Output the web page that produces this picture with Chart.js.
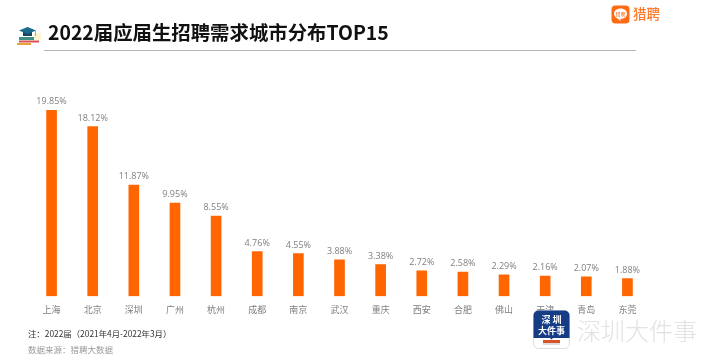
<!DOCTYPE html>
<html>
<head>
<meta charset="utf-8">
<style>
html, body { margin: 0; padding: 0; background: #fff; }
#wrap { position: relative; width: 710px; height: 361px; overflow: hidden; font-family: "Noto Sans CJK SC", "Noto Sans", sans-serif; }
canvas { position: absolute; left: 0; top: 0; }
.t { position: absolute; white-space: nowrap; line-height: 1; }
svg { position: absolute; }
</style>
</head>
<body>
<div id="wrap">
  <canvas id="cityChart" width="710" height="361"></canvas>

  <svg style="left:16px;top:26px" width="26" height="20" viewBox="0 0 26 20">
    <rect x="1" y="17" width="14" height="2" fill="#e9a23b"/>
    <rect x="3" y="14.5" width="20" height="2" fill="#d9534f"/>
    <rect x="3" y="11" width="15" height="3" fill="#3f8f86"/>
    <rect x="18" y="7" width="7" height="7" fill="#fdf3d2"/>
    <path d="M7 6 h9 v4 h-9z" fill="#17465f"/>
    <path d="M11.5 1 L20 4.5 L11.5 8 L3 4.5z" fill="#1c6b8f"/>
    <rect x="19" y="5" width="1" height="5" fill="#e9a23b"/>
  </svg>
  <div class="t" style="left:48px;top:22px;font-size:19.4px;font-weight:700;color:#111">2022届应届生招聘需求城市分布TOP15</div>
  <div style="position:absolute;left:44px;top:50px;width:592px;height:1px;background:#b5b5b5"></div>

  <svg style="left:611px;top:5px" width="19" height="19" viewBox="0 0 19 19">
    <rect x="0.5" y="0.5" width="18" height="18" rx="4" fill="#ff6a13"/>
    <path d="M9.5 3.5 C13.5 3.5 16 5.8 16 8.8 C16 11.8 13.5 14 9.5 14 L9.5 16 L6.5 13.4 C4.3 12.6 3 10.8 3 8.8 C3 5.8 5.5 3.5 9.5 3.5z" fill="#fff"/>
    <text x="9.5" y="11" font-size="5" fill="#ff6a13" text-anchor="middle" font-family="Noto Sans CJK SC">猎聘</text>
  </svg>
  <div class="t" style="left:633px;top:7px;font-size:13.5px;font-weight:500;color:#ff7a2b">猎聘</div>

  <div class="t" style="left:28px;top:329px;font-size:8.4px;color:#333">注：2022届（2021年4月-2022年3月）</div>
  <div class="t" style="left:28px;top:345px;font-size:8.5px;color:#999">数据来源：猎聘大数据</div>

  <svg style="left:533px;top:310px" width="37" height="39" viewBox="0 0 37 39">
    <rect x="0.5" y="0.5" width="36" height="38" rx="5" fill="#fff" stroke="#ddd"/>
    <path d="M0.5 28 V5.5 a5 5 0 0 1 5-5 H31.5 a5 5 0 0 1 5 5 V28 H20 L18.5 29.5 L17 28z" fill="#173c86"/>
    <rect x="10" y="30" width="17" height="3" fill="#d8532a"/>
    <rect x="10" y="33.5" width="17" height="1" fill="#bbb"/>
    <text x="18.5" y="13" font-size="9" font-weight="700" fill="#fff" text-anchor="middle" font-family="Noto Sans CJK SC">深 圳</text>
    <text x="18.5" y="23.5" font-size="9" font-weight="700" fill="#fff" text-anchor="middle" font-family="Noto Sans CJK SC">大件事</text>
  </svg>
  <div class="t" style="left:577px;top:318px;font-size:24px;font-weight:300;color:#e2e2e2">深圳大件事</div>
</div>

<script src="https://cdn.jsdelivr.net/npm/chart.js@4"></script>
<script>
const cities = ['上海', '北京', '深圳', '广州', '杭州', '成都', '南京', '武汉', '重庆', '西安', '合肥', '佛山', '天津', '青岛', '东莞'];
const shares = [19.85, 18.12, 11.87, 9.95, 8.55, 4.76, 4.55, 3.88, 3.38, 2.72, 2.58, 2.29, 2.16, 2.07, 1.88];

// value labels above the bars
const barLabels = {
    id: 'barLabels',
    afterDatasetsDraw(chart) {
        const ctx = chart.ctx;
        const bars = chart.getDatasetMeta(0).data;
        ctx.save();
        ctx.font = '9px "Open Sans", "Noto Sans", sans-serif';
        ctx.fillStyle = '#7f7f7f';
        ctx.textAlign = 'center';
        ctx.textBaseline = 'bottom';
        bars.forEach(function (bar, i) {
            ctx.fillText(shares[i].toFixed(2) + '%', bar.x, bar.y - 4);
        });
        ctx.restore();
    }
};

new Chart(document.getElementById('cityChart').getContext('2d'), {
    type: 'bar',
    data: {
        labels: cities,
        datasets: [{
            data: shares,
            backgroundColor: '#ff6600',
            barThickness: 10
        }]
    },
    options: {
        responsive: false,
        animation: false,
        layout: { padding: { left: 31, right: 62, top: 109, bottom: 46 } },
        plugins: {
            legend: { display: false },
            tooltip: { enabled: false }
        },
        scales: {
            x: {
                grid: { display: false },
                border: { display: false },
                ticks: {
                    color: '#7f7f7f',
                    maxRotation: 0,
                    autoSkip: false,
                    padding: 0,
                    font: { size: 9, family: '"Noto Sans CJK SC", "Noto Sans", sans-serif' }
                }
            },
            y: { display: false, min: 0, max: 20 }
        }
    },
    plugins: [barLabels]
});
</script>
</body>
</html>
